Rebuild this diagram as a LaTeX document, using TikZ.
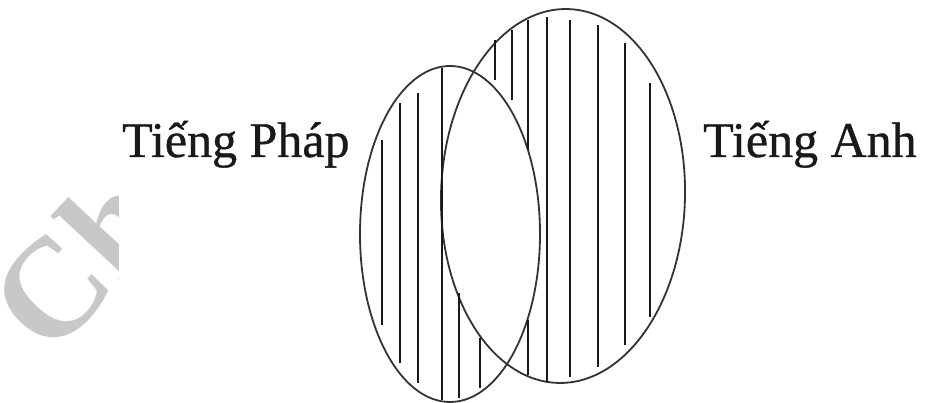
\documentclass[tikz,border=0pt]{standalone}
\usepackage{fontspec}
\setmainfont{Liberation Serif}
\newfontfamily\lblfont{Liberation Serif}[FakeBold=0.7]
\newfontfamily\wmfont{Liberation Serif Bold}
\definecolor{wmgray}{RGB}{200,200,200}
\begin{document}
\begin{tikzpicture}[x=1pt,y=-1pt,
  outline/.style={line width=1.8pt, black!80},
  hatch/.style={line width=2pt, black!90},
  label/.style={anchor=base west, inner sep=0pt, font=\lblfont\fontsize{50}{50}\selectfont, text=black!90},
  wm/.style={anchor=base west, inner sep=0pt, rotate=47, font=\wmfont\fontsize{140}{140}\selectfont, text=wmgray}]
\useasboundingbox (0,0) rectangle (926,403);
\fill[white] (0,0) rectangle (926,403);
% watermark fragment
\begin{scope}
  \clip (0,0) rectangle (118,403);
  \node[wm] (wmark) at (50,360) {Ch};
\end{scope}
% ellipses
\draw[outline] (450,234) ellipse [x radius=90pt, y radius=168pt];
\draw[outline, rotate around={-1.5:(563,196)}] (563,196) ellipse [x radius=122pt, y radius=187pt];
% hatch lines, left set
\draw[hatch] (382,140) -- (382,325);
\draw[hatch] (400,103) -- (400,363);
\draw[hatch] (418,93) -- (418,383);
\draw[hatch] (442,68) -- (442,400);
\draw[hatch] (459,293) -- (459,398);
\draw[hatch] (480,338) -- (480,388);
% hatch lines, right set
\draw[hatch] (495,40) -- (495,80);
\draw[hatch] (512,30) -- (512,100);
\draw[hatch] (528,20) -- (528,150);
\draw[hatch] (528,320) -- (528,375);
\draw[hatch] (547,17) -- (547,382);
\draw[hatch] (570,20) -- (570,377);
\draw[hatch] (598,25) -- (598,367);
\draw[hatch] (625,43) -- (625,345);
\draw[hatch] (650,83) -- (650,317);
% labels
\node[label] (phap) at (122,157) {Tiếng Pháp};
\node[label] (anh) at (703,157) {Tiếng Anh};
\end{tikzpicture}
\end{document}
